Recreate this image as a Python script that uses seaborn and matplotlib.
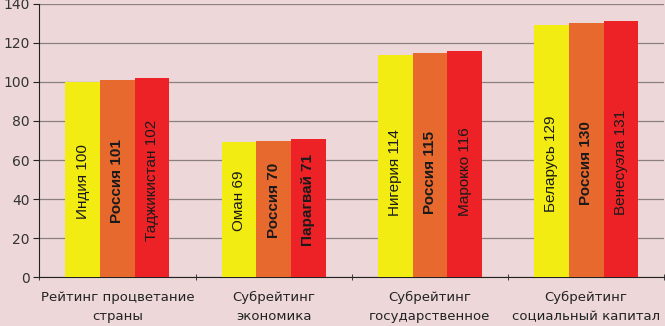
import pandas as pd
import matplotlib.pyplot as plt
import seaborn as sns
from matplotlib.ticker import FixedLocator

categories = ['Рейтинг процветание\nстраны', 'Субрейтинг\nэкономика',
              'Субрейтинг\nгосударственное', 'Субрейтинг\nсоциальный капитал']
left_names = ['Индия', 'Оман', 'Нигерия', 'Беларусь']
left_vals = [100, 69, 114, 129]
mid_names = ['Россия', 'Россия', 'Россия', 'Россия']
mid_vals = [101, 70, 115, 130]
right_names = ['Таджикистан', 'Парагвай', 'Марокко', 'Венесуэла']
right_vals = [102, 71, 116, 131]

rows = []
for pos, (names, vals) in enumerate([(left_names, left_vals), (mid_names, mid_vals), (right_names, right_vals)]):
    for c, n, v in zip(categories, names, vals):
        rows.append({'cat': c, 'pos': pos, 'name': n, 'val': v})
df = pd.DataFrame(rows)

bg = '#EDD7D9'
palette = ['#F2EC12', '#E8692E', '#EC2227']

fig, ax = plt.subplots(figsize=(6.65, 3.26), dpi=100)
fig.patch.set_facecolor(bg)
ax.set_facecolor(bg)
plt.subplots_adjust(left=0.059, right=0.999, bottom=0.150, top=0.988)

sns.barplot(data=df, x='cat', y='val', hue='pos', palette=palette, width=0.667,
            gap=0, saturation=1, legend=False, ax=ax, zorder=3, edgecolor='none')

ax.set_ylim(0, 140)
ax.set_xlim(-0.5, 3.5)
ax.set_yticks(range(0, 141, 20))
ax.yaxis.grid(True, color='#8a8080', linewidth=0.9, zorder=0)
ax.set_axisbelow(True)
ax.set_xlabel('')
ax.set_ylabel('')
for s in ['top', 'right']:
    ax.spines[s].set_visible(False)
ax.spines['left'].set_color('#222222')
ax.spines['bottom'].set_color('#222222')
ax.tick_params(axis='y', length=4, color='#222222', labelsize=10, labelcolor='#333333', pad=3)
ax.tick_params(axis='x', which='major', length=0, labelsize=9.5, labelcolor='#222222', pad=10)
ax.xaxis.set_minor_locator(FixedLocator([-0.5, 0.5, 1.5, 2.5, 3.5]))
ax.tick_params(axis='x', which='minor', length=4, color='#222222', direction='inout')
for t in ax.get_xticklabels():
    t.set_linespacing(1.6)

name_lists = [left_names, mid_names, right_names]
val_lists = [left_vals, mid_vals, right_vals]
for pos, cont in enumerate(ax.containers):
    for i, bar in enumerate(cont):
        v = val_lists[pos][i]
        bold = pos == 1 or (pos == 2 and i == 1)
        ax.text(bar.get_x() + bar.get_width() / 2, 17 + 0.32 * v,
                f'{name_lists[pos][i]} {v}', rotation=90, ha='center', va='center',
                fontsize=11, family='Liberation Sans',
                fontweight='bold' if bold else 'normal', color='#1a1a1a', zorder=4)

plt.savefig('out.png', dpi=100, facecolor=bg)
plt.close()
